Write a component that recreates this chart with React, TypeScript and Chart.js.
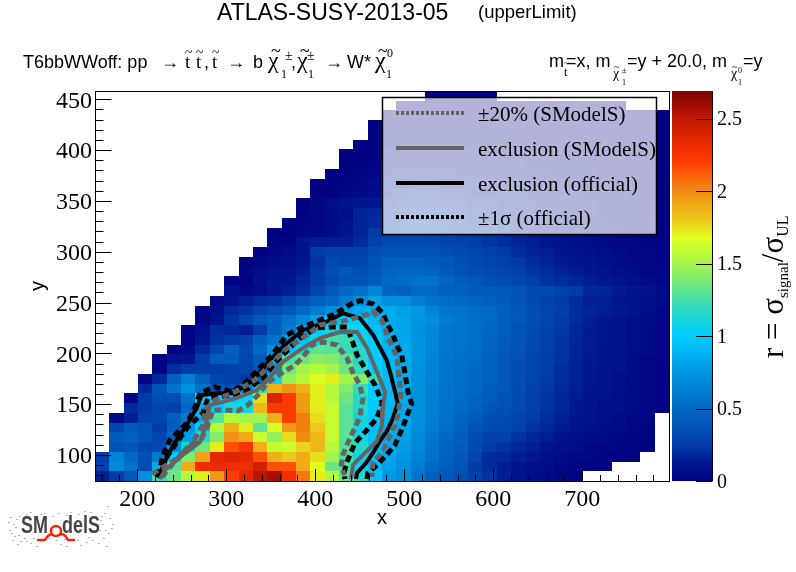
import React, { useEffect, useRef } from 'react';
import { Chart, registerables } from 'chart.js';

Chart.register(...registerables);

const _ = null;

// axis ranges and 40 x 40 binning of the upper limit histogram
const xRange = [152.5, 797.5];
const yRange = [74.4, 458.1];
const rRange = [0, 2.69];
const nBins = 40;

const xTicks = [200, 300, 400, 500, 600, 700];
const yTicks = [100, 150, 200, 250, 300, 350, 400, 450];
const rTicks = [0, 0.5, 1, 1.5, 2, 2.5];

// r value per bin, first row is the lowest y bin
const rValues = [
  [.15,.25,.4,.7,1.2,1.35,1.55,1.72,1.95,2.2,2.35,2.52,2.58,2.28,2.05,1.72,1.55,1.3,1.15,.95,.75,.7,.55,.45,.4,.35,.28,.22,.15,.1,.07,.05,.03,.02,_,_,_,_,_,_],
  [.28,.68,.55,.35,.85,1.3,1.9,2.3,2.33,2.3,2.3,2.42,2.15,2.15,1.9,1.68,1.35,1.25,1.05,.92,.8,.72,.6,.5,.44,.38,.25,.2,.15,.1,.08,.06,.04,.02,.01,.01,_,_,_,_],
  [.25,.65,.5,.35,.6,1,1.4,1.92,2.35,2.38,2.35,2.15,1.88,1.8,1.9,1.75,1.5,1.25,1.1,.95,.82,.75,.64,.54,.46,.4,.3,.2,.18,.15,.12,.08,.06,.04,.03,.02,.02,.01,_,_],
  [_,.38,.4,.3,.32,.72,1.1,1.35,1.72,2.15,2.25,1.88,1.6,1.62,1.78,1.85,1.55,1.3,1.15,.95,.85,.78,.66,.56,.48,.42,.32,.25,.22,.18,.15,.1,.08,.06,.04,.03,.02,.02,.01,_],
  [_,.42,.45,.38,.3,.5,.8,1.15,1.4,1.98,1.9,1.62,1.45,1.75,2,1.85,1.6,1.3,1.1,.95,.86,.8,.68,.58,.5,.44,.35,.28,.28,.22,.18,.14,.1,.08,.06,.05,.04,.02,.02,_],
  [_,.3,.42,.38,.25,.42,.75,1,1.55,1.88,1.72,1.3,1.65,1.95,2.03,1.8,1.6,1.3,1.1,.95,.88,.82,.7,.6,.52,.46,.38,.34,.32,.28,.22,.18,.14,.1,.08,.06,.05,.03,.02,_],
  [_,.05,.15,.28,.3,.45,.6,.9,1.3,1.55,1.5,1.5,1.88,2.2,2.03,1.75,1.6,1.3,1.1,.98,.9,.85,.72,.62,.54,.48,.42,.36,.34,.3,.25,.2,.16,.12,.1,.07,.06,.04,.03,_],
  [_,_,.2,.25,.3,.28,.5,.85,1,1.1,1.1,1.85,2.22,2.2,1.95,1.72,1.6,1.3,1.15,1,.9,.85,.72,.62,.55,.5,.46,.4,.36,.32,.26,.22,.18,.13,.11,.08,.07,.05,.03,.02],
  [_,_,.03,.25,.35,.35,.55,1,1,1,1.05,1.75,2.4,2.2,1.95,1.72,1.55,1.35,1.15,1,.92,.85,.72,.63,.55,.52,.48,.43,.38,.33,.27,.23,.18,.14,.11,.09,.07,.05,.03,.02],
  [_,_,_,.18,.38,.55,.72,.55,.4,.35,.65,1.2,1.88,1.98,1.88,1.72,1.55,1.4,1.2,1,.92,.85,.72,.63,.55,.52,.5,.44,.4,.34,.28,.24,.19,.15,.12,.1,.08,.05,.04,.02],
  [_,_,_,.03,.18,.45,.62,.45,.3,.28,.25,.45,1.05,1.45,1.55,1.65,1.72,1.5,1.4,1.2,.92,.85,.73,.64,.56,.52,.5,.45,.4,.35,.29,.25,.2,.16,.13,.1,.08,.06,.04,.02],
  [_,_,_,_,.02,.2,.25,.25,.25,.28,.3,.4,.7,1.35,1.5,1.55,1.5,1.35,1.2,1,.92,.85,.74,.64,.56,.53,.5,.45,.4,.35,.3,.26,.2,.16,.13,.11,.09,.06,.04,.02],
  [_,_,_,_,.02,.1,.12,.25,.42,.42,.3,.42,.9,1.25,1.35,1.42,1.4,1.3,1.15,1,.9,.85,.75,.65,.57,.54,.52,.46,.41,.36,.3,.26,.22,.17,.13,.11,.09,.06,.04,.03],
  [_,_,_,_,_,.02,.05,.18,.3,.45,.32,.5,.7,.95,1.1,1.3,1.3,1.2,1.15,1,.88,.84,.75,.66,.58,.55,.52,.47,.42,.37,.31,.27,.22,.17,.14,.11,.09,.07,.05,.03],
  [_,_,_,_,_,_,.02,.12,.22,.25,.28,.45,.55,.8,.95,1.1,1.25,1.22,1.1,1,.87,.83,.75,.66,.58,.55,.53,.48,.42,.38,.32,.27,.23,.18,.14,.12,.1,.07,.05,.03],
  [_,_,_,_,_,_,.02,.08,.2,.18,.15,.25,.45,.6,.8,1,1.1,1.1,1.05,.95,.85,.82,.74,.67,.58,.55,.53,.5,.45,.38,.33,.28,.24,.18,.14,.12,.1,.08,.05,.03],
  [_,_,_,_,_,_,_,.03,.1,.22,.3,.4,.45,.55,.65,.8,.95,1,1,.9,.85,.82,.75,.7,.6,.57,.53,.5,.45,.4,.35,.3,.25,.2,.15,.12,.1,.08,.06,.03],
  [_,_,_,_,_,_,_,.03,.08,.18,.22,.3,.35,.4,.5,.6,.7,.8,.85,.85,.85,.8,.75,.65,.58,.55,.52,.5,.45,.4,.35,.3,.27,.2,.17,.15,.13,.1,.07,.04],
  [_,_,_,_,_,_,_,_,.05,.1,.15,.2,.22,.28,.38,.45,.5,.6,.7,.8,.72,.7,.62,.55,.52,.5,.47,.45,.42,.38,.33,.28,.25,.2,.15,.15,.12,.1,.08,.05],
  [_,_,_,_,_,_,_,_,_,.08,.03,.07,.12,.15,.2,.3,.4,.5,.55,.65,.47,.45,.5,.5,.45,.45,.42,.42,.4,.38,.33,.33,.28,.25,.18,.17,.14,.12,.1,.06],
  [_,_,_,_,_,_,_,_,_,.02,.02,.08,.12,.12,.18,.25,.32,.38,.38,.42,.5,.52,.55,.55,.48,.42,.4,.36,.33,.3,.26,.22,.2,.17,.14,.12,.1,.08,.06,.04],
  [_,_,_,_,_,_,_,_,_,_,.02,.06,.1,.1,.15,.25,.35,.4,.35,.4,.48,.5,.5,.47,.42,.38,.35,.32,.3,.27,.23,.2,.17,.14,.12,.1,.08,.06,.04,.03],
  [_,_,_,_,_,_,_,_,_,_,.02,.04,.07,.08,.12,.22,.32,.3,.3,.38,.45,.45,.45,.42,.4,.36,.33,.3,.27,.24,.2,.17,.14,.12,.1,.08,.06,.05,.03,.02],
  [_,_,_,_,_,_,_,_,_,_,_,.01,.03,.06,.1,.25,.28,.27,.28,.35,.38,.38,.38,.38,.35,.32,.3,.27,.24,.2,.17,.15,.12,.1,.08,.07,.05,.04,.03,.02],
  [_,_,_,_,_,_,_,_,_,_,_,_,.02,.02,.1,.14,.14,.14,.2,.28,.32,.33,.33,.32,.3,.28,.26,.23,.2,.17,.15,.12,.1,.08,.07,.05,.04,.03,.02,.02],
  [_,_,_,_,_,_,_,_,_,_,_,_,.01,.01,.03,.04,.06,.1,.17,.25,.26,.28,.3,.28,.26,.24,.22,.2,.18,.15,.13,.11,.09,.07,.06,.05,.04,.03,.02,.01],
  [_,_,_,_,_,_,_,_,_,_,_,_,_,.01,.02,.04,.06,.1,.17,.2,.22,.24,.27,.26,.24,.22,.2,.18,.16,.14,.12,.1,.08,.06,.05,.04,.03,.02,.02,.01],
  [_,_,_,_,_,_,_,_,_,_,_,_,_,_,.01,.03,.06,.08,.17,.18,.2,.22,.24,.24,.22,.2,.18,.16,.14,.12,.1,.09,.07,.06,.04,.03,.03,.02,.01,.01],
  [_,_,_,_,_,_,_,_,_,_,_,_,_,_,.01,.03,.07,.1,.12,.13,.17,.2,.22,.2,.18,.17,.15,.14,.12,.1,.09,.07,.06,.05,.04,.03,.02,.02,.01,.01],
  [_,_,_,_,_,_,_,_,_,_,_,_,_,_,_,.01,.01,.04,.05,.07,.13,.16,.17,.17,.15,.14,.12,.11,.1,.09,.07,.06,.05,.04,.03,.02,.02,.01,.01,.01],
  [_,_,_,_,_,_,_,_,_,_,_,_,_,_,_,.01,.01,.02,.03,.06,.1,.12,.14,.14,.12,.11,.1,.09,.08,.07,.06,.05,.04,.03,.02,.02,.01,.01,.01,.01],
  [_,_,_,_,_,_,_,_,_,_,_,_,_,_,_,_,.01,.01,.02,.03,.08,.1,.1,.1,.09,.08,.08,.07,.06,.05,.04,.04,.03,.02,.02,.01,.01,.01,.01,.01],
  [_,_,_,_,_,_,_,_,_,_,_,_,_,_,_,_,_,.01,.01,.02,.06,.07,.07,.07,.06,.06,.05,.05,.04,.04,.03,.03,.02,.02,.01,.01,.01,.01,.01,.01],
  [_,_,_,_,_,_,_,_,_,_,_,_,_,_,_,_,_,.01,.01,.01,.04,.05,.05,.05,.04,.04,.04,.03,.03,.03,.02,.02,.02,.01,.01,.01,.01,.01,.01,.01],
  [_,_,_,_,_,_,_,_,_,_,_,_,_,_,_,_,_,_,.01,.01,.03,.03,.03,.03,.03,.03,.03,.02,.02,.02,.02,.01,.01,.01,.01,.01,.01,.01,.01,.01],
  [_,_,_,_,_,_,_,_,_,_,_,_,_,_,_,_,_,_,_,.01,.02,.02,.02,.02,.02,.02,.02,.02,.02,.01,.01,.01,.01,.01,.01,.01,.01,.01,.01,.01],
  [_,_,_,_,_,_,_,_,_,_,_,_,_,_,_,_,_,_,_,.01,.02,.02,.02,.02,.02,.01,.01,.01,.01,.01,.01,.01,.01,.01,.01,.01,.01,.01,.01,.01],
  [_,_,_,_,_,_,_,_,_,_,_,_,_,_,_,_,_,_,_,_,.01,.01,.01,.01,.01,.01,.01,.01,.01,.01,.01,.01,.01,.01,.01,.01,.01,.01,.01,.01],
  [_,_,_,_,_,_,_,_,_,_,_,_,_,_,_,_,_,_,_,_,_,.01,.01,.01,.01,.01,.01,.01,.01,.01,.01,.01,.01,.01,.01,.01,.01,_,_,_],
  [_,_,_,_,_,_,_,_,_,_,_,_,_,_,_,_,_,_,_,_,_,_,_,.01,.01,.01,.01,.01,_,_,_,_,_,_,_,_,_,_,_,_],
];

// exclusion curves, [x, y]
const exclusionOfficial = [
  [223.6,78.6],[231.1,93.4],[240.4,109.8],[255.5,129.5],[266.7,146],[272.4,159],[289.2,160.7],[307.9,160.7],[330.3,173.8],
  [349.1,193.5],[367.9,209.9],[386.5,223],[409,229.6],[431.5,239.4],[450.2,234.5],[465.2,218],[480.2,193.5],[483.9,182],
  [489.6,162.3],[492.6,150.9],[487.3,136.4],[480.6,123.6],[472.7,113.8],[464.8,102],[457,92.1],[446.9,82.3],[445.7,76.4],
];
const officialPlus = [
  [223.3,79.3],[228.9,100],[236.7,114.8],[257,132.5],[264.8,147.2],[270.5,161],[287.3,166.9],[306.4,162],[321,170.8],[330,178.7],
  [351.3,198.4],[368.2,218.1],[386.2,226],[419.9,237.8],[442.4,249.6],[450.2,251.8],[464.8,248.6],[476.1,239.7],[480.2,229.9],
  [487,219.1],[491.5,208.2],[497.1,198.4],[500.8,180.7],[504.2,162],[508.3,150.2],[504.2,141.3],[498.5,127.6],[489.5,109.8],
  [480.2,100],[467,88.2],[459.2,82.3],[458,76.4],
];
const officialMinus = [
  [223.3,77.4],[234.5,100],[255.8,126.6],[273.8,141.3],[279.4,156.1],[287.3,157.1],[307.5,159],[323.3,164],[341.2,175.8],
  [354.7,190.5],[371.5,205.3],[382.8,215.1],[401.9,225],[419.9,226],[435.6,226],[442.4,210.2],[446.9,198.4],[458.1,181.7],
  [467.1,168.9],[475,151.2],[469.4,136.4],[458.1,124.6],[444.6,111.8],[435.6,93.1],[432.2,82.3],[433.4,76.4],
];
const exclusionSModelS = [
  [225.5,76.4],[231.1,85.2],[251.3,100],[270.5,112.8],[276.1,126.6],[281.7,149.2],[296.3,152.2],[312,156.1],[334.5,164],
  [349.1,176.8],[363.7,191.5],[386.2,205.3],[405.3,215.1],[427.8,221],[446.9,221],[458.1,205.3],[469.4,181.7],[478.4,162],
  [476.1,146.2],[475,129.5],[469.4,113.8],[453.6,100],[442.4,90.2],[440.1,76.4],
];
const smodelsPlus = [
  [216.5,81.3],[242.3,95.1],[259.2,107.9],[273.8,129.5],[276.1,144.3],[287.3,154.1],[309.8,162],[332.3,173.8],[349.1,188.6],
  [365.9,203.3],[382.8,213.2],[405.3,227.9],[433.4,232.2],[457.8,237.8],[464.8,241],[474.6,232.8],[478.4,225],[481.7,215.1],
  [487.3,205.3],[491.5,196.7],[492.9,185.6],[495.2,168.9],[496,157.4],[492.9,139.4],[489.5,129.5],[481.7,114.8],[474.6,102],
  [464.8,93.1],[463.7,78.4],
];
const smodelsMinus = [
  [227.7,78.4],[236.7,88.2],[255.8,106.9],[272.7,116.7],[278.3,126.6],[285.1,144.3],[296.3,144.3],[313.1,143.3],[324.4,149.2],
  [337.9,161],[345.7,170.8],[362.6,180.7],[377.2,188.6],[386.2,196.4],[396.3,208.2],[408.7,211.2],[424.4,208.2],[435.6,195.4],
  [442.4,180.7],[450.2,168.9],[453.6,156.1],[450.2,137.4],[442.4,122.6],[435.6,109.8],[431.1,100],[428.9,88.2],[433.4,80.3],
];

const legendLabels = ['±20% (SModelS)', 'exclusion (SModelS)', 'exclusion (official)', '±1σ (official)'];

// colour palette of the z axis: [r, red, green, blue]
const palette = [
  [0, 0, 0, 128], [0.12, 0, 22, 142], [0.25, 0, 60, 168], [0.5, 0, 105, 195], [0.75, 0, 150, 225], [1, 0, 205, 255],
  [1.1, 20, 212, 222], [1.25, 70, 222, 170], [1.4, 130, 235, 110], [1.55, 180, 250, 60], [1.68, 225, 255, 30],
  [1.8, 235, 200, 25], [2, 240, 140, 20], [2.2, 255, 60, 0], [2.3, 240, 45, 0], [2.5, 190, 25, 0], [2.69, 128, 0, 0],
];

const GREY = 'rgb(100,100,100)';
const SERIF = '"Liberation Serif"';
const SANS = '"Liberation Sans"';

const colorFor = (v: number) => {
  for (let i = 1; i < palette.length; i++) {
    if (v <= palette[i][0]) {
      const a = palette[i - 1];
      const b = palette[i];
      const t = (v - a[0]) / (b[0] - a[0]);
      return `rgb(${a[1] + (b[1] - a[1]) * t},${a[2] + (b[2] - a[2]) * t},${a[3] + (b[3] - a[3]) * t})`;
    }
  }
  return 'rgb(128,0,0)';
};

const put = (ctx: CanvasRenderingContext2D, text: string, x: number, y: number, font: string, color = '#000') => {
  ctx.font = font;
  ctx.fillStyle = color;
  ctx.textAlign = 'left';
  ctx.textBaseline = 'alphabetic';
  ctx.fillText(text, x, y);
};

// a letter with a tilde on top; tx/ty place the tilde relative to the letter
const tilded = (ctx: CanvasRenderingContext2D, letter: string, x: number, y: number, size: number, tx: number, ty: number, tsize: number) => {
  put(ctx, letter, x, y, `${size}px ${SERIF}`);
  put(ctx, '~', x + tx, y - ty, `${tsize}px ${SERIF}`);
};

const heatmapPlugin = {
  id: 'heatmap',
  beforeDatasetsDraw(chart: any) {
    const { ctx, scales } = chart;
    const xw = (xRange[1] - xRange[0]) / nBins;
    const yw = (yRange[1] - yRange[0]) / nBins;
    ctx.save();
    rValues.forEach((row, j) => {
      row.forEach((v, i) => {
        if (v === null) return;
        const x0 = Math.round(scales.x.getPixelForValue(xRange[0] + i * xw));
        const x1 = Math.round(scales.x.getPixelForValue(xRange[0] + (i + 1) * xw));
        const y0 = Math.round(scales.y.getPixelForValue(yRange[0] + (j + 1) * yw));
        const y1 = Math.round(scales.y.getPixelForValue(yRange[0] + j * yw));
        ctx.fillStyle = colorFor(v);
        ctx.fillRect(x0, y0, x1 - x0, y1 - y0);
      });
    });
    ctx.restore();
  },
};

const drawTicks = (chart: any) => {
  const { ctx, scales, chartArea: a } = chart;
  ctx.strokeStyle = '#000';
  ctx.lineWidth = 1;
  ctx.beginPath();
  for (let v = 160; v <= 780; v += 20) {
    const px = Math.round(scales.x.getPixelForValue(v)) + 0.5;
    ctx.moveTo(px, a.bottom);
    ctx.lineTo(px, a.bottom - (v % 100 === 0 ? 12 : 6));
  }
  for (let v = 80; v <= 450; v += 10) {
    const py = Math.round(scales.y.getPixelForValue(v)) + 0.5;
    ctx.moveTo(a.left, py);
    ctx.lineTo(a.left + (v % 50 === 0 ? 16.5 : 8.5), py);
  }
  ctx.stroke();
  ctx.strokeRect(a.left + 0.5, a.top + 0.5, a.right - a.left, a.bottom - a.top);
};

const drawColorbar = (chart: any) => {
  const { ctx, scales } = chart;
  const r = scales.r;
  const top = r.getPixelForValue(rRange[1]);
  const bottom = r.getPixelForValue(rRange[0]);
  const grad = ctx.createLinearGradient(0, bottom, 0, top);
  palette.forEach((p) => grad.addColorStop(p[0] / rRange[1], `rgb(${p[1]},${p[2]},${p[3]})`));
  ctx.fillStyle = grad;
  ctx.fillRect(672, top, 40, bottom - top);
  ctx.strokeStyle = '#000';
  ctx.lineWidth = 1;
  ctx.beginPath();
  ctx.moveTo(712.5, top);
  ctx.lineTo(712.5, bottom);
  rTicks.forEach((v) => {
    const py = Math.round(r.getPixelForValue(v)) + 0.5;
    ctx.moveTo(696, py);
    ctx.lineTo(712.5, py);
  });
  ctx.stroke();

  // r = sigma_signal / sigma_UL, written bottom to top
  ctx.save();
  ctx.translate(783, 358);
  ctx.rotate(-Math.PI / 2);
  let at = 0;
  const piece = (text: string, size: number, dy: number) => {
    put(ctx, text, at, dy, `${size}px ${SERIF}`);
    at += ctx.measureText(text).width;
  };
  piece('r = σ', 31, 0);
  piece('signal', 15, 5);
  piece('/σ', 31, 0);
  piece('UL', 16, 5);
  ctx.restore();
};

const drawLegend = (chart: any) => {
  const { ctx } = chart;
  ctx.fillStyle = 'rgba(255,255,255,0.7)';
  ctx.fillRect(382.5, 97.5, 274, 137);
  ctx.strokeStyle = '#000';
  ctx.lineWidth = 1.5;
  ctx.setLineDash([]);
  ctx.strokeRect(382.5, 97.5, 274, 137);
  const styles = [
    { color: GREY, dash: [3, 2] },
    { color: GREY, dash: [] },
    { color: '#000', dash: [] },
    { color: '#000', dash: [3, 2] },
  ];
  const rowsY = [113, 148, 183, 217];
  legendLabels.forEach((label, i) => {
    ctx.strokeStyle = styles[i].color;
    ctx.lineWidth = 4;
    ctx.setLineDash(styles[i].dash);
    ctx.beginPath();
    ctx.moveTo(396, rowsY[i]);
    ctx.lineTo(464, rowsY[i]);
    ctx.stroke();
    ctx.setLineDash([]);
    put(ctx, label, 478, rowsY[i] + 8, `21px ${SERIF}`);
  });
};

const drawTexts = (chart: any) => {
  const { ctx } = chart;
  put(ctx, 'ATLAS-SUSY-2013-05', 217, 20, `23px ${SANS}`);
  put(ctx, '(upperLimit)', 478, 18, `18.5px ${SANS}`);

  // left process label
  const base = 68;
  put(ctx, 'T6bbWWoff: pp', 23, base, `18px ${SANS}`);
  put(ctx, '→', 161, base, `18px ${SERIF}`);
  tilded(ctx, 't', 185, base, 19, 0, 11, 14);
  tilded(ctx, 't', 196, base, 19, 0, 11, 14);
  put(ctx, ',', 204, base, `18px ${SANS}`);
  tilded(ctx, 't', 212, base, 19, 0, 11, 14);
  put(ctx, '→', 227, base, `18px ${SERIF}`);
  put(ctx, 'b', 253, base, `18px ${SANS}`);
  tilded(ctx, 'χ', 268, base, 24, 3, 11, 18);
  put(ctx, '±', 285, 60, `14px ${SERIF}`);
  put(ctx, '1', 281, 78, `12px ${SERIF}`);
  put(ctx, ',', 291, base, `18px ${SANS}`);
  tilded(ctx, 'χ', 297, base, 24, 3, 11, 18);
  put(ctx, '±', 307, 60, `14px ${SERIF}`);
  put(ctx, '1', 308, 78, `12px ${SERIF}`);
  put(ctx, '→', 325, base, `18px ${SERIF}`);
  put(ctx, 'W*', 347, base, `18px ${SANS}`);
  tilded(ctx, 'χ', 375, base, 24, 3, 11, 18);
  put(ctx, '0', 387, 57, `12px ${SERIF}`);
  put(ctx, '1', 386, 78, `12px ${SERIF}`);

  // right mass label
  put(ctx, 'm', 549, 67, `18px ${SANS}`);
  tilded(ctx, 't', 564, 76, 12, 0, 10, 9);
  put(ctx, '=x, m', 566, 67, `18px ${SANS}`);
  tilded(ctx, 'χ', 613, 78, 14, 1, 8, 10);
  put(ctx, '±', 622, 73, `8px ${SERIF}`);
  put(ctx, '1', 622, 85, `8px ${SERIF}`);
  put(ctx, '=y + 20.0, m', 627, 67, `18px ${SANS}`);
  tilded(ctx, 'χ', 731, 78, 14, 1, 8, 10);
  put(ctx, '0', 738, 73, `8px ${SERIF}`);
  put(ctx, '1', 738, 85, `8px ${SERIF}`);
  put(ctx, '=y', 743, 67, `18px ${SANS}`);
};

// speckle around the logo lettering
const logoSpecks = [
  [10,517],[13,524],[9,530],[16,519],[18,535],[12,540],[20,541],[26,514],[30,512],[44,513],[52,516],[66,515],[78,514],[90,512],
  [100,520],[104,513],[107,506],[111,528],[108,533],[103,538],[106,546],[98,543],[86,542],[80,545],[66,546],[30,543],[22,530],[14,536],
  [8,522],[11,533],[15,527],[19,516],[24,538],[33,538],[40,514],[48,538],[58,513],[70,512],[84,511],[99,530],[102,524],[105,530],
  [109,518],[112,524],[101,516],[92,540],[77,540],[60,544],[36,546],[26,541],[17,544],[64,539],[88,537],[56,540],
];

const drawLogo = (chart: any) => {
  const { ctx } = chart;
  ctx.fillStyle = 'rgba(150,150,150,0.7)';
  logoSpecks.forEach(([x, y]) => ctx.fillRect(x, y, 2, 1));
  const logoFont = `bold 23px "Liberation Sans"`;
  ctx.save();
  ctx.translate(21, 533);
  ctx.scale(0.78, 1);
  put(ctx, 'SM', 0, 0, logoFont, '#454545');
  ctx.restore();
  ctx.save();
  ctx.translate(62, 533);
  ctx.scale(0.78, 1);
  put(ctx, 'delS', 0, 0, logoFont, '#454545');
  ctx.restore();
  ctx.strokeStyle = '#f02808';
  ctx.lineWidth = 2.5;
  ctx.beginPath();
  ctx.arc(56, 531, 5, 0, Math.PI * 2);
  ctx.moveTo(37, 540);
  ctx.lineTo(45, 540);
  ctx.quadraticCurveTo(49, 533, 52, 535);
  ctx.moveTo(60, 535);
  ctx.quadraticCurveTo(64, 532, 68, 540);
  ctx.lineTo(75, 540);
  ctx.stroke();
};

const overlayPlugin = {
  id: 'overlay',
  afterDatasetsDraw(chart: any) {
    const { ctx } = chart;
    ctx.save();
    drawTicks(chart);
    drawColorbar(chart);
    drawLegend(chart);
    drawTexts(chart);
    drawLogo(chart);
    ctx.restore();
  },
};

const curve = (points: number[][], color: string, dash: number[]) => ({
  data: points.map(([x, y]) => ({ x, y })),
  showLine: true,
  borderColor: color,
  borderWidth: dash.length ? 5 : 4,
  borderDash: dash,
  pointRadius: 0,
  tension: 0,
  xAxisID: 'x',
  yAxisID: 'y',
});

const labelTicks = (size: number, padding: number, labelOffset = 0) => ({
  color: '#000',
  font: { family: SERIF, size },
  padding,
  labelOffset,
  includeBounds: false,
  maxRotation: 0,
  callback: (v: any) => String(v),
});

const App: React.FC = () => {
  const canvasRef = useRef<HTMLCanvasElement>(null);

  useEffect(() => {
    if (!canvasRef.current) return;
    const chart = new Chart(canvasRef.current, {
      type: 'scatter',
      data: {
        datasets: [
          curve(smodelsPlus, GREY, [7, 4]),
          curve(smodelsMinus, GREY, [7, 4]),
          curve(exclusionSModelS, GREY, []),
          curve(exclusionOfficial, '#000', []),
          curve(officialPlus, '#000', [7, 4]),
          curve(officialMinus, '#000', [7, 4]),
        ],
      },
      options: {
        responsive: false,
        animation: false,
        layout: { padding: { left: 0, right: 0, top: 91, bottom: 41 } },
        plugins: { legend: { display: false }, tooltip: { enabled: false } },
        scales: {
          x: {
            type: 'linear',
            min: xRange[0],
            max: xRange[1],
            grid: { display: false, drawTicks: false },
            border: { display: false },
            ticks: labelTicks(24, 4),
            afterBuildTicks: (s: any) => { s.ticks = xTicks.map((value) => ({ value })); },
            afterFit: (s: any) => { s.height = 50; },
            title: { display: true, text: 'x', color: '#000', font: { family: SANS, size: 20 }, padding: { top: 0, bottom: 1 } },
          },
          y: {
            type: 'linear',
            min: yRange[0],
            max: yRange[1],
            grid: { display: false, drawTicks: false },
            border: { display: false },
            ticks: labelTicks(24, 3, 2),
            afterBuildTicks: (s: any) => { s.ticks = yTicks.map((value) => ({ value })); },
            afterFit: (s: any) => { s.width = 95; },
            title: { display: true, text: 'y', color: '#000', font: { family: SANS, size: 20 }, padding: { top: 26, bottom: 0 } },
          },
          r: {
            type: 'linear',
            axis: 'y',
            position: 'right',
            min: rRange[0],
            max: rRange[1],
            grid: { display: false, drawTicks: false },
            border: { display: false },
            ticks: labelTicks(20, 48, 1.5),
            afterBuildTicks: (s: any) => { s.ticks = rTicks.map((value) => ({ value })); },
            afterFit: (s: any) => { s.width = 127; },
          },
        },
      },
      plugins: [heatmapPlugin, overlayPlugin],
    } as any);

    return () => {
      chart.destroy();
    };
  }, []);

  return (
    <div style={{ position: 'absolute', left: 0, top: 0, width: 796, height: 572, background: '#fff' }}>
      <canvas ref={canvasRef} width={796} height={572} style={{ display: 'block' }}></canvas>
    </div>
  );
};

export default App;
